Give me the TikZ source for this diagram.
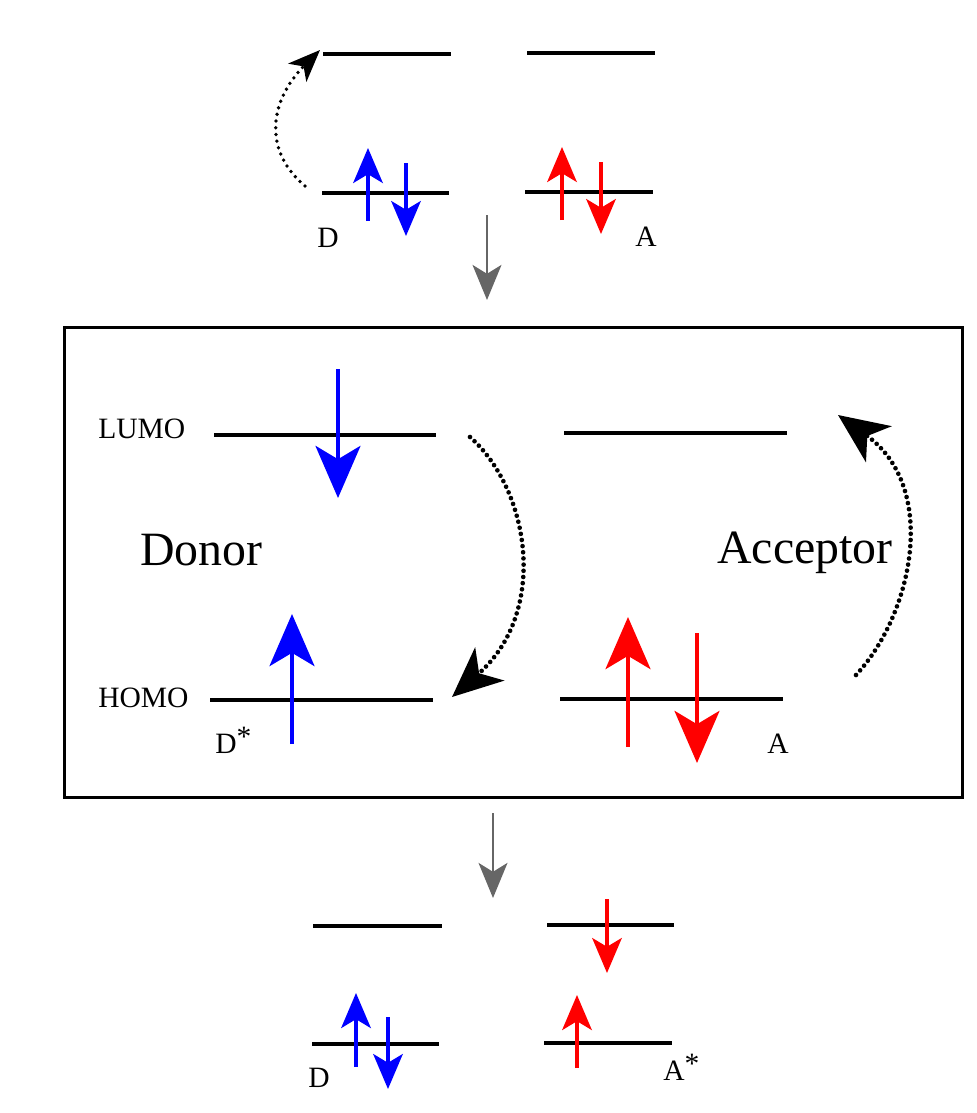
\documentclass[tikz,border=0pt]{standalone}
\usepackage{fontspec}
\setmainfont{Liberation Serif}
\usetikzlibrary{arrows.meta}
\definecolor{donorcolor}{HTML}{0000FF}
\definecolor{acceptorcolor}{HTML}{FF0000}
\definecolor{stagecolor}{HTML}{666666}
\tikzset{
  orbital/.style={
    draw=black,
    line width=2.6pt
  },
  spin/.style={
    draw=#1,
    line width=2.2pt,
    -{Stealth[length=0.875cm,width=0.74cm,inset=0.22cm]}
  },
  bigspin/.style={
    draw=#1,
    line width=3.4pt,
    -{Stealth[length=1.3cm,width=1.12cm,inset=0.33cm]}
  },
  hop/.style={
    draw=black,
    line width=3.3pt,
    line cap=round,
    dash pattern=on 0pt off 4.4pt,
    -{Stealth[length=1.25cm,width=1.1cm,inset=0.35cm]}
  },
  stage/.style={
    draw=stagecolor,
    line width=2.1pt,
    -{Stealth[length=0.875cm,width=0.72cm,inset=0.22cm]}
  },
  panel/.style={draw=black, line width=2.2pt, inner sep=0pt},
  tag/.style={font=\fontsize{21}{24}\selectfont, inner sep=0pt, anchor=base west},
  role/.style={font=\fontsize{34}{38}\selectfont, inner sep=0pt, anchor=base west}
}

\begin{document}
\begin{tikzpicture}[x=0.025cm, y=-0.025cm]
  \path[use as bounding box] (0,0) rectangle (977,1113);

  \draw[orbital] (323,54) -- (451,54);
  \draw[orbital] (527,53) -- (655,53);
  \draw[orbital] (322,193) -- (449,193);
  \draw[orbital] (525,192) -- (653,192);
  \draw[spin=donorcolor] (368,221) -- (368,148);
  \draw[spin=donorcolor] (406,163) -- (406,236);
  \draw[spin=acceptorcolor] (562,220) -- (562,147);
  \draw[spin=acceptorcolor] (601,162) -- (601,234);
  \node[tag] (dtop) at (317,247) {D};
  \node[tag] (atop) at (635,246) {A};

  \coordinate (exciteD0) at (305,186);
  \coordinate (exciteD1) at (320,50);
  \draw[hop, line width=2.7pt, dash pattern=on 0pt off 4.8pt,
        -{Stealth[length=0.8cm,width=0.64cm,inset=0.22cm]}]
    (exciteD0) .. controls (262,150) and (270,100) .. (exciteD1);

  \coordinate (stage0) at (487,215);
  \coordinate (stage1) at (487,300);
  \draw[stage] (stage0) -- (stage1);

  \node[panel, minimum width=22.425cm, minimum height=11.725cm]
    (box) at (513.5,562.5) {};

  \draw[orbital] (214,435) -- (436,435);
  \draw[orbital] (210,700) -- (433,700);
  \draw[orbital] (564,433) -- (787,433);
  \draw[orbital] (560,699) -- (783,699);
  \draw[bigspin=donorcolor] (338,369) -- (338,498);
  \draw[bigspin=donorcolor] (292,744) -- (292,614);
  \draw[bigspin=acceptorcolor] (628,747) -- (628,617);
  \draw[bigspin=acceptorcolor] (697,633) -- (697,763);

  \node[tag] (lumo) at (98,438) {LUMO};
  \node[tag] (homo) at (98,707) {HOMO};
  \node[role] (donor) at (140,565) {Donor};
  \node[role] (acceptor) at (717,563) {Acceptor};
  \node[tag] (dstar) at (215,753) {D\raisebox{0.45ex}{*}};
  \node[tag] (abox) at (767,753) {A};

  \coordinate (relaxD0) at (470,437);
  \coordinate (relaxD1) at (452,697);
  \draw[hop] (relaxD0) .. controls (530,490) and (549,612) .. (relaxD1);
  \coordinate (exciteA0) at (856,675);
  \coordinate (exciteA1) at (838,415);
  \draw[hop] (exciteA0) .. controls (912,615) and (940,488) .. (exciteA1);

  \coordinate (stage2) at (493,813);
  \coordinate (stage3) at (493,898);
  \draw[stage] (stage2) -- (stage3);

  \draw[orbital] (313,926) -- (442,926);
  \draw[orbital] (547,925) -- (674,925);
  \draw[orbital] (312,1044) -- (439,1044);
  \draw[orbital] (544,1043) -- (672,1043);
  \draw[spin=acceptorcolor] (607,899) -- (607,973);
  \draw[spin=acceptorcolor] (577,1068) -- (577,995);
  \draw[spin=donorcolor] (356,1067) -- (356,993);
  \draw[spin=donorcolor] (388,1017) -- (388,1089);
  \node[tag] (dbot) at (308,1087) {D};
  \node[tag] (astar) at (663,1080) {A\raisebox{0.45ex}{*}};
\end{tikzpicture}
\end{document}
